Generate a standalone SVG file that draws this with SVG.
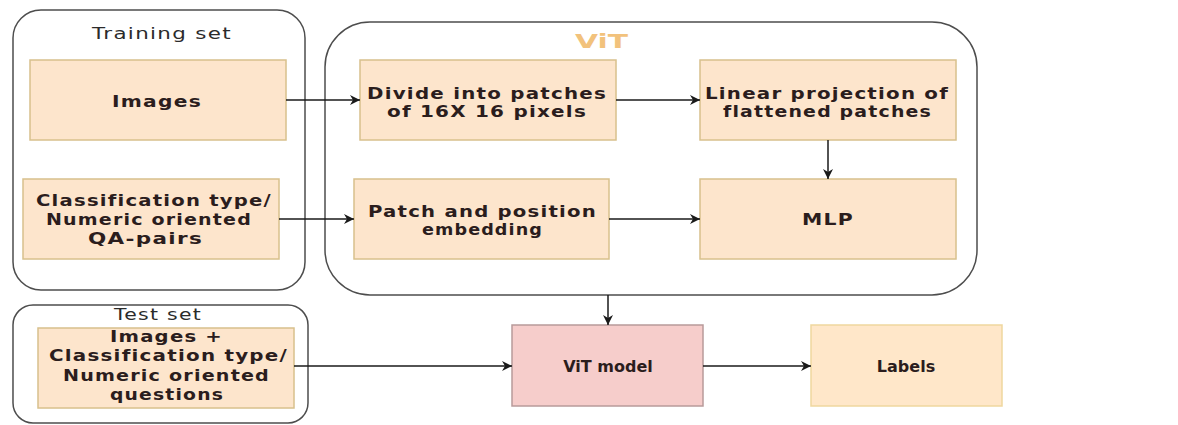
<svg xmlns="http://www.w3.org/2000/svg" width="1178" height="425" viewBox="0 0 1178 425">
  <style>
    .container { fill: #ffffff; stroke: #4d4d4d; stroke-width: 1.5; }
    .box { fill: #fde5cc; stroke: #d8c08c; stroke-width: 1.5; }
    .model { fill: #f6cdcb; stroke: #b89a9a; stroke-width: 1.5; }
    .out { fill: #ffe7c9; stroke: #efd79e; stroke-width: 1.5; }
    .lbl { font-family: "DejaVu Sans", Verdana, sans-serif; font-size: 16px; font-weight: bold; fill: #2b1d1d; letter-spacing: 1px; }
    .plain { font-family: "DejaVu Sans", Verdana, sans-serif; font-size: 16px; font-weight: bold; fill: #2b1d1d; text-anchor: middle; }
    .cap { font-family: "DejaVu Sans", Verdana, sans-serif; font-size: 16px; fill: #2b2b2b; letter-spacing: 1px; }
    .title { font-family: "DejaVu Sans", Verdana, sans-serif; font-size: 20px; font-weight: bold; fill: #f2c27c; }
    .edge { fill: none; stroke: #1a1a1a; stroke-width: 1.5; }
  </style>
  <defs>
    <marker id="arrow" markerUnits="userSpaceOnUse" markerWidth="12" markerHeight="10" refX="10" refY="5" orient="auto">
      <path d="M0,0 L10,5 L0,10 L3,5 Z" fill="#1a1a1a"/>
    </marker>
  </defs>

  <!-- Training set group -->
  <g id="training-set">
    <rect class="container" x="13" y="10" width="292" height="280" rx="28"/>
    <text class="cap" x="92" y="39" textLength="140" lengthAdjust="spacingAndGlyphs">Training set</text>
  </g>
  <g id="images">
    <rect class="box" x="30" y="60" width="256" height="80"/>
    <text class="lbl" x="112" y="107" textLength="90" lengthAdjust="spacingAndGlyphs">Images</text>
  </g>
  <g id="qa-pairs">
    <rect class="box" x="23" y="179" width="256" height="80"/>
    <text class="lbl" x="36" y="206" textLength="236" lengthAdjust="spacingAndGlyphs">Classification type/</text>
    <text class="lbl" x="46" y="225" textLength="206" lengthAdjust="spacingAndGlyphs">Numeric oriented</text>
    <text class="lbl" x="88" y="244" textLength="115" lengthAdjust="spacingAndGlyphs">QA-pairs</text>
  </g>

  <!-- ViT group -->
  <g id="vit">
    <rect class="container" x="325" y="22" width="652" height="273" rx="45"/>
    <text class="title" x="575" y="48" textLength="53" lengthAdjust="spacingAndGlyphs">ViT</text>
  </g>
  <g id="divide">
    <rect class="box" x="360" y="60" width="256" height="80"/>
    <text class="lbl" x="367" y="99" textLength="240" lengthAdjust="spacingAndGlyphs">Divide into patches</text>
    <text class="lbl" x="387" y="117" textLength="200" lengthAdjust="spacingAndGlyphs">of 16X 16 pixels</text>
  </g>
  <g id="linear-projection">
    <rect class="box" x="700" y="60" width="256" height="80"/>
    <text class="lbl" x="705" y="99" textLength="244" lengthAdjust="spacingAndGlyphs">Linear projection of</text>
    <text class="lbl" x="723" y="117" textLength="209" lengthAdjust="spacingAndGlyphs">flattened patches</text>
  </g>
  <g id="embedding">
    <rect class="box" x="354" y="179" width="255" height="80"/>
    <text class="lbl" x="368" y="217" textLength="229" lengthAdjust="spacingAndGlyphs">Patch and position</text>
    <text class="lbl" x="422" y="235" textLength="121" lengthAdjust="spacingAndGlyphs">embedding</text>
  </g>
  <g id="mlp">
    <rect class="box" x="700" y="179" width="256" height="80"/>
    <text class="lbl" x="802" y="225" textLength="52" lengthAdjust="spacingAndGlyphs">MLP</text>
  </g>

  <!-- Test set group -->
  <g id="test-set">
    <rect class="container" x="13" y="305" width="295" height="118" rx="20"/>
    <text class="cap" x="114" y="320" textLength="88" lengthAdjust="spacingAndGlyphs">Test set</text>
  </g>
  <g id="questions">
    <rect class="box" x="38" y="328" width="256" height="80"/>
    <text class="lbl" x="110" y="342" textLength="113" lengthAdjust="spacingAndGlyphs">Images +</text>
    <text class="lbl" x="49" y="361" textLength="239" lengthAdjust="spacingAndGlyphs">Classification type/</text>
    <text class="lbl" x="63" y="381" textLength="207" lengthAdjust="spacingAndGlyphs">Numeric oriented</text>
    <text class="lbl" x="110" y="400" textLength="114" lengthAdjust="spacingAndGlyphs">questions</text>
  </g>
  <g id="vit-model">
    <rect class="model" x="512" y="325" width="191" height="81"/>
    <text class="plain" x="608" y="372">ViT model</text>
  </g>
  <g id="labels">
    <rect class="out" x="811" y="325" width="191" height="81"/>
    <text class="plain" x="906" y="372">Labels</text>
  </g>

  <!-- Connectors -->
  <g id="connectors">
    <line class="edge" x1="286" y1="100" x2="360" y2="100" marker-end="url(#arrow)"/>
    <line class="edge" x1="279" y1="219" x2="354" y2="219" marker-end="url(#arrow)"/>
    <line class="edge" x1="616" y1="100" x2="700" y2="100" marker-end="url(#arrow)"/>
    <line class="edge" x1="609" y1="219" x2="700" y2="219" marker-end="url(#arrow)"/>
    <line class="edge" x1="828" y1="140" x2="828" y2="179" marker-end="url(#arrow)"/>
    <line class="edge" x1="608" y1="295" x2="608" y2="325" marker-end="url(#arrow)"/>
    <line class="edge" x1="294" y1="366" x2="512" y2="366" marker-end="url(#arrow)"/>
    <line class="edge" x1="703" y1="366" x2="811" y2="366" marker-end="url(#arrow)"/>
  </g>
</svg>
